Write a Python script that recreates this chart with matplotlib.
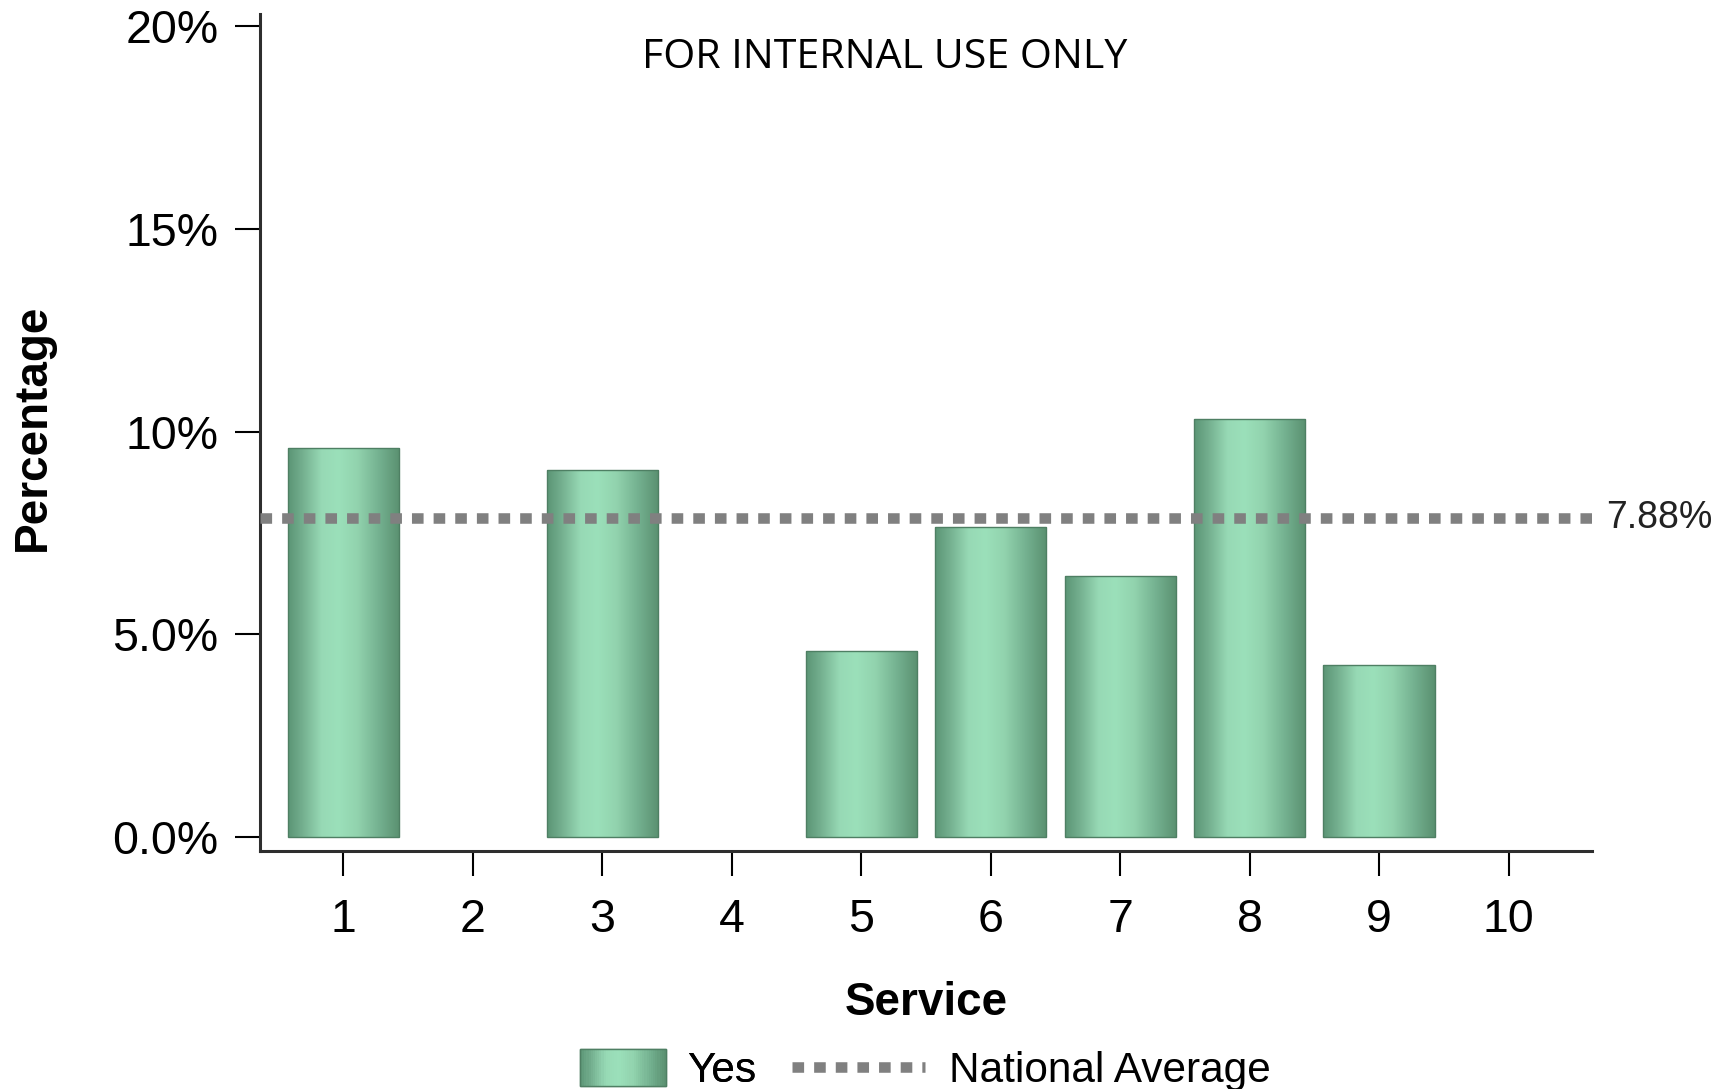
"""Share of 'Yes' answers per service, against the national average."""

import numpy as np
import matplotlib
matplotlib.use("Agg")
import matplotlib.pyplot as plt
from matplotlib.colors import LinearSegmentedColormap
from matplotlib.lines import Line2D
from matplotlib.patches import Rectangle
from matplotlib.legend_handler import HandlerBase

# Data (percent). Services 2, 4 and 10 have no bar.
SERVICES = [1, 2, 3, 4, 5, 6, 7, 8, 9, 10]
YES_PCT = [9.6, np.nan, 9.05, np.nan, 4.6, 7.65, 6.45, 10.3, 4.25, np.nan]
NATIONAL_AVG = 7.88
Y_TICKS = [0, 5, 10, 15, 20]
Y_TICK_LABELS = ["0.0%", "5.0%", "10%", "15%", "20%"]

plt.rcParams["font.family"] = ["Liberation Sans", "DejaVu Sans"]

# Horizontal shading used for the bars: dark edges, light band left of centre.
BAR_CMAP = LinearSegmentedColormap.from_list("bar_shade", [
    (0.00, "#5b9575"),
    (0.12, "#72ad8d"),
    (0.30, "#97d9b5"),
    (0.45, "#9be0ba"),
    (0.62, "#92d3ae"),
    (0.82, "#73b08f"),
    (1.00, "#5a9070"),
])
GRADIENT = np.linspace(0, 1, 256).reshape(1, -1)
EDGE = "#4e7f63"
LINE_GREY = "#808080"


class GradientPatchHandler(HandlerBase):
    """Legend handle drawn as thin vertical strips of the bar shading."""

    def create_artists(self, legend, orig_handle, xdescent, ydescent,
                       width, height, fontsize, trans):
        n = 40
        artists = []
        h = height * 1.25
        y0 = -ydescent - (h - height) / 2
        for i in range(n):
            c = BAR_CMAP((i + 0.5) / n)
            artists.append(Rectangle((-xdescent + width * i / n, y0),
                                     width / n + 0.3, h, facecolor=c,
                                     edgecolor="none", transform=trans))
        artists.append(Rectangle((-xdescent, y0), width, h, facecolor="none",
                                 edgecolor=EDGE, linewidth=1, transform=trans))
        return artists


fig = plt.figure(figsize=(17.3, 10.89), dpi=100)
ax = fig.add_axes([260 / 1730, 1 - 851 / 1089, 1332 / 1730, 837 / 1089])

bars = ax.bar(SERVICES, YES_PCT, width=0.86, facecolor="none",
              edgecolor=EDGE, linewidth=1.0, zorder=3)
for patch, val in zip(bars.patches, YES_PCT):
    if not np.isfinite(val):
        continue
    x0 = patch.get_x()
    x1 = x0 + patch.get_width()
    im = ax.imshow(GRADIENT, cmap=BAR_CMAP, aspect="auto",
                   extent=(x0, x1, 0, val), zorder=2, interpolation="bilinear")
    im.set_clip_path(patch)

ax.axhline(NATIONAL_AVG, color=LINE_GREY, linewidth=7.6,
           linestyle=(0, (1.1, 0.95)), zorder=4)
ax.annotate(f"{NATIONAL_AVG:.2f}%", xy=(1, NATIONAL_AVG),
            xycoords=ax.get_yaxis_transform(), xytext=(10, 0),
            textcoords="offset points", ha="left", va="center",
            fontsize=27, color="#222222")

ax.set_xlim(0.355, 10.645)
ax.set_ylim(-0.345, 20.3)

ax.set_xticks(SERVICES)
ax.set_xticklabels([str(s) for s in SERVICES])
ax.set_yticks(Y_TICKS)
ax.set_yticklabels(Y_TICK_LABELS)
ax.tick_params(axis="both", length=18, width=1.5, color="black",
               labelsize=33.5)
ax.tick_params(axis="x", pad=15.5)
ax.tick_params(axis="y", pad=12)

for side in ("top", "right"):
    ax.spines[side].set_visible(False)
for side in ("left", "bottom"):
    ax.spines[side].set_linewidth(2.2)
    ax.spines[side].set_color("#2e2e2e")

ax.set_xlabel("Service", fontsize=33, fontweight="bold")
ax.xaxis.set_label_coords(0.5, -(1003 - 851) / 837)
ax.xaxis.label.set_va("center")
ax.set_ylabel("Percentage", fontsize=33, fontweight="bold")
ax.yaxis.set_label_coords((33 - 260) / 1332, 0.506)
ax.yaxis.label.set_va("center")

fig.text(885 / 1730, 1 - 58 / 1089, "FOR INTERNAL USE ONLY",
         ha="center", va="center", fontsize=29.6,
         family=["Open Sans", "DejaVu Sans"])

# Legend: two pieces so each handle can keep its own length.
yes_handle = Rectangle((0, 0), 1, 1)
avg_handle = Line2D([], [], color=LINE_GREY, linewidth=7.6,
                    linestyle=(0, (1.1, 0.95)))
leg1 = fig.legend([yes_handle], ["Yes"], loc="center left",
                  bbox_to_anchor=(580 / 1730, 1 - 1071 / 1089),
                  frameon=False, fontsize=30.5, handlelength=2.03,
                  handletextpad=0.5, borderpad=0, borderaxespad=0,
                  handler_map={Rectangle: GradientPatchHandler()})
fig.legend([avg_handle], ["National Average"], loc="center left",
           bbox_to_anchor=(792 / 1730, 1 - 1071 / 1089),
           frameon=False, fontsize=30.5, handlelength=3.15,
           handletextpad=0.56, borderpad=0, borderaxespad=0)
fig.add_artist(leg1)

fig.savefig("out.png", dpi=100)
